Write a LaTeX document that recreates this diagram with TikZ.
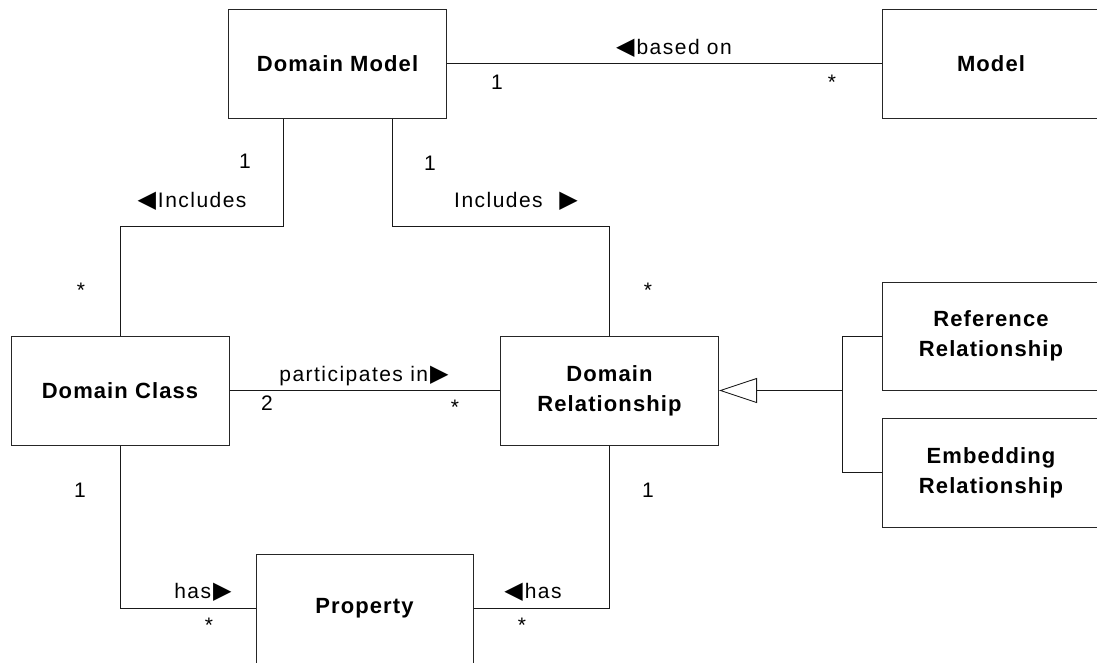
\documentclass[tikz,border=0pt]{standalone}
\usepackage{fontspec}
\setmainfont{Liberation Sans}[LetterSpace=7]
\newfontfamily\boxfont{Liberation Sans}[LetterSpace=5]
\newfontfamily\symfont{DejaVu Sans}
\newcommand{\rtri}{\hspace{2pt}{\symfont\fontsize{24}{24}\selectfont ▶}}
\newcommand{\ltri}{{\symfont\fontsize{24}{24}\selectfont ◀}\hspace{2pt}}
\usetikzlibrary{arrows.meta}
\begin{document}
\begin{tikzpicture}[x=1pt,y=-1pt,
  box/.style={draw=black!85,line width=1pt,fill=white,minimum width=218pt,minimum height=109pt,
    inner sep=0pt,align=center,font=\boxfont\bfseries\fontsize{22}{30}\selectfont},
  lbl/.style={anchor=base,inner sep=0pt,font=\fontsize{21}{24}\selectfont},
  conn/.style={draw=black!90,line width=0.9pt}]
\useasboundingbox (0,0) rectangle (1097,662);
\clip (0,0) rectangle (1097,662);
% boxes
\node[box] (dm)  at (337.5,63.5) {Domain Model};
\node[box] (m)   at (991,63.5) {Model};
\node[box] (dc)  at (120,390.5) {Domain Class};
\node[box] (dr)  at (609.5,390.5) {Domain\\Relationship};
\node[box,minimum height=108pt] (ref) at (991,336) {Reference\\Relationship};
\node[box] (emb) at (991,472.5) {Embedding\\Relationship};
\node[box,minimum width=217pt] (p) at (364.5,608.5) {Property};
% connectors
\draw[conn] (dm.east) -- (m.west);
\draw[conn] ([xshift=55pt]dm.south west) -- ++(0,108) -| (dc.north);
\draw[conn] ([xshift=-55pt]dm.south east) -- ++(0,108) -| (dr.north);
\draw[conn] (dc.east) -- (dr.west);
\draw[conn] (dc.south) |- (p.west);
\draw[conn] (dr.south) |- (p.east);
\coordinate (j) at (842,390.5);
\draw[conn,-{Triangle[open,length=38pt,width=25pt,line width=0.9pt]}] (j) -- (dr.east);
\draw[conn] (ref.west) -| (j) |- (emb.west);
% labels
\node[lbl] (l1) at (674,54) {\ltri based on};
\node[lbl] (l2) at (497,89) {1};
\node[lbl] (l3) at (832,89) {*};
\node[lbl] (l4) at (192,207) {\ltri Includes};
\node[lbl] (l5) at (516,207) {Includes\ \ \rtri};
\node[lbl] (l6) at (245,168) {1};
\node[lbl] (l7) at (430,170) {1};
\node[lbl] (l8) at (81,297) {*};
\node[lbl] (l9) at (648,297) {*};
\node[lbl] (l10) at (364,381) {participates in\rtri};
\node[lbl] (l11) at (267,410) {2};
\node[lbl] (l12) at (455,414) {*};
\node[lbl] (l13) at (80,497) {1};
\node[lbl] (l14) at (648,497) {1};
\node[lbl] (l15) at (203,598) {has\rtri};
\node[lbl] (l16) at (209,632) {*};
\node[lbl] (l17) at (533,598) {\ltri has};
\node[lbl] (l18) at (522,632) {*};
\end{tikzpicture}
\end{document}
